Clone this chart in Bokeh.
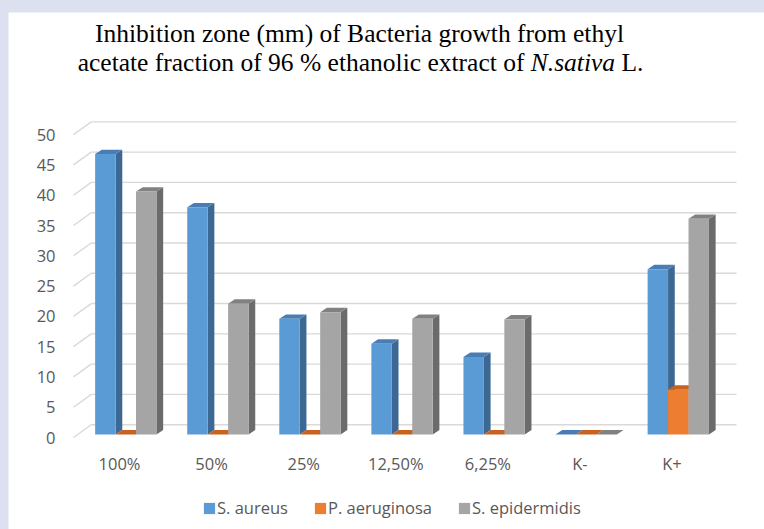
from bokeh.plotting import figure
from bokeh.models import Label, Legend, LegendItem, ColumnDataSource, Spacer
from bokeh.core.properties import value
from bokeh.layouts import column
from bokeh.embed import file_html
from bokeh.resources import INLINE

# ---------------- data ----------------
categories = ["100%", "50%", "25%", "12,50%", "6,25%", "K-", "K+"]
series_names = ["S. aureus", "P. aeruginosa", "S. epidermidis"]
s_aureus = [46.3, 37.5, 19.1, 15.0, 12.8, 0.0, 27.3]
p_aeruginosa = [0.0, 0.0, 0.0, 0.0, 0.0, 0.0, 7.4]
s_epidermidis = [40.1, 21.6, 20.2, 19.1, 19.0, 0.0, 35.6]
y_ticks = [0, 5, 10, 15, 20, 25, 30, 35, 40, 45, 50]

# ---------------- style ----------------
front_colors = ["#5b9bd5", "#ed7d31", "#a5a5a5"]
top_colors = ["#4a7db3", "#c8621e", "#818181"]
side_colors = ["#3c6893", "#a9551c", "#6b6b6b"]
grid_color = "#d9d9d9"
label_color = "#595959"
label_font = "Open Sans"
title_font = "Liberation Serif"
title_size = "25.5px"

# figure placed at page (8, 12); frame covers the whole canvas
FIG_X, FIG_Y = 8, 12
W, H = 756, 517
PXX = 92.08          # px per category slot
PXY = 6.057          # px per mm
ORIGIN_X, ORIGIN_Y = 73, 437   # page px of data point (0, 0) (front plane)


def X(px):
    return (px - ORIGIN_X) / PXX


def Y(py):
    return (ORIGIN_Y - py) / PXY


x_start, x_end = X(FIG_X), X(FIG_X + W)
y_start, y_end = Y(FIG_Y + H), Y(FIG_Y)

# 3D geometry (in data units)
WALL_DX = 17.7 / PXX
WALL_DY = 12.8 / PXY
WALL_RIGHT = X(736)
BAR_W = 0.222
GROUP_OFF = 0.235
BAR_BASE = 3.0 / PXY
SIDE_DX = 6.7 / PXX
SIDE_DY = 4.4 / PXY

p = figure(width=W, height=H, x_range=(x_start, x_end), y_range=(y_start, y_end),
           output_backend="svg", toolbar_location=None,
           min_border_left=0, min_border_right=0, min_border_top=0, min_border_bottom=0)
p.outline_line_color = None
p.background_fill_color = "white"
p.border_fill_color = "white"
p.axis.visible = False
p.xgrid.visible = False
p.ygrid.visible = False

# back wall gridlines + diagonal joints
p.segment(x0=[WALL_DX] * len(y_ticks), y0=[t + WALL_DY for t in y_ticks],
          x1=[WALL_RIGHT] * len(y_ticks), y1=[t + WALL_DY for t in y_ticks],
          line_color=grid_color, line_width=1.4)
p.segment(x0=[0] * len(y_ticks), y0=y_ticks,
          x1=[WALL_DX] * len(y_ticks), y1=[t + WALL_DY for t in y_ticks],
          line_color=grid_color, line_width=1.4)

# bars
all_series = [s_aureus, p_aeruginosa, s_epidermidis]
front_renderers = []
for s, vals in enumerate(all_series):
    lefts = [i + GROUP_OFF + s * BAR_W for i in range(len(categories))]
    rights = [l + BAR_W for l in lefts]
    bottoms = [BAR_BASE] * len(vals)
    tops = [BAR_BASE + v for v in vals]
    side_xs = [[r, r + SIDE_DX, r + SIDE_DX, r] for r in rights]
    side_ys = [[b, b + SIDE_DY, t + SIDE_DY, t] for b, t in zip(bottoms, tops)]
    top_xs = [[l, r, r + SIDE_DX, l + SIDE_DX] for l, r in zip(lefts, rights)]
    top_ys = [[t, t, t + SIDE_DY, t + SIDE_DY] for t in tops]
    p.patches(xs=side_xs, ys=side_ys, fill_color=side_colors[s], line_color=None)
    p.patches(xs=top_xs, ys=top_ys, fill_color=top_colors[s], line_color=None)
    src = ColumnDataSource(dict(left=lefts, right=rights, bottom=bottoms, top=tops))
    r = p.quad(left="left", right="right", bottom="bottom", top="top", source=src,
               fill_color=front_colors[s], line_color=None)
    front_renderers.append(r)

# y tick labels (front plane)
p.text(x=[X(55)] * len(y_ticks), y=y_ticks, text=[str(t) for t in y_ticks],
       text_align="right", text_baseline="middle", text_font=value(label_font),
       text_font_size="16.5px", text_color=label_color)

# category labels
p.text(x=[i + 0.5 for i in range(len(categories))], y=[Y(463)] * len(categories),
       text=categories, text_align="center", text_baseline="middle",
       text_font=value(label_font), text_font_size="16.5px", text_color=label_color)

# legend
legend = Legend(items=[LegendItem(label=n, renderers=[r]) for n, r in zip(series_names, front_renderers)],
                orientation="horizontal", location=(202 - FIG_X, FIG_Y + H - 519),
                glyph_width=14, glyph_height=14, label_standoff=1, spacing=25,
                padding=0, margin=0, border_line_color=None, background_fill_alpha=0,
                label_text_font=label_font, label_text_font_size="16.5px",
                label_text_color=label_color, label_height=20)
p.add_layout(legend)

# title (two lines, italic species name)
T1_BASE, T2_BASE = 33.0, 62.0
p.add_layout(Label(x=X(359), y=Y(T1_BASE), text="Inhibition zone (mm) of Bacteria growth from ethyl",
                   text_align="center", text_baseline="alphabetic", text_font=title_font,
                   text_font_size=title_size, text_color="black"))
p.add_layout(Label(x=X(523.9), y=Y(T2_BASE), text="acetate fraction of 96 % ethanolic extract of",
                   text_align="right", text_baseline="alphabetic", text_font=title_font,
                   text_font_size=title_size, text_color="black"))
p.add_layout(Label(x=X(530.3), y=Y(T2_BASE), text="N.sativa",
                   text_align="left", text_baseline="alphabetic", text_font=title_font,
                   text_font_style="italic", text_font_size=title_size, text_color="black"))
p.add_layout(Label(x=X(621.0), y=Y(T2_BASE), text="L.",
                   text_align="left", text_baseline="alphabetic", text_font=title_font,
                   text_font_size=title_size, text_color="black"))

layout = column(Spacer(height=FIG_Y - 8), p)

html = file_html(layout, INLINE)
head_end = html.find("</head>")
body_pos = html.find("<body", head_end if head_end >= 0 else 0)
if body_pos >= 0:
    html = (html[:body_pos]
            + '<body style="background-color:#dde0ef; margin:8px 0 0 8px;"'
            + html[body_pos + 5:])
open("out.html", "w").write(html)
